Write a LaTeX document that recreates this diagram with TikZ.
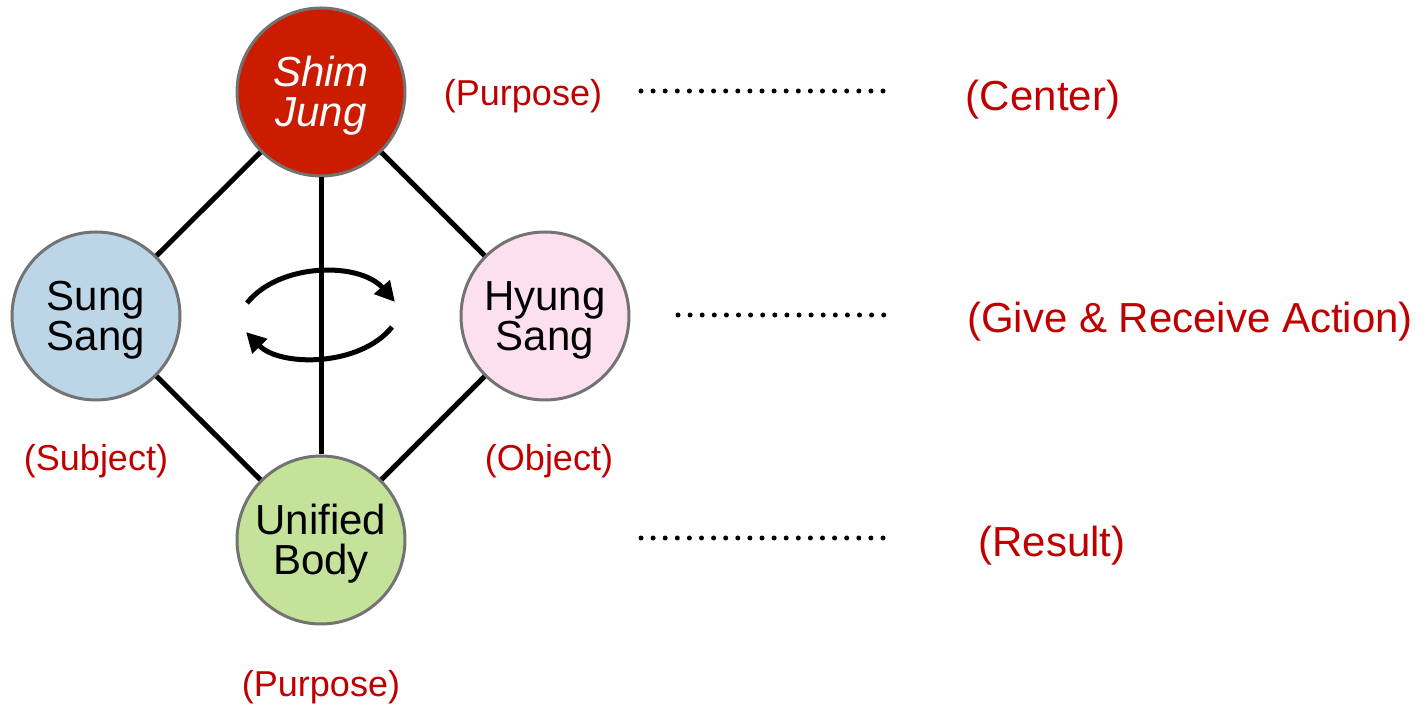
\documentclass[tikz,border=0pt]{standalone}
\usepackage{fontspec}
\setmainfont{Liberation Sans}
\usetikzlibrary{arrows.meta,positioning}
\definecolor{jungred}{HTML}{CC1C00}
\definecolor{sungblue}{HTML}{BCD6E8}
\definecolor{hyungpink}{HTML}{FDE0F0}
\definecolor{bodygreen}{HTML}{C4E29A}
\definecolor{notered}{HTML}{C00000}
\tikzset{
  role/.style={circle, draw=black!55, line width=1.5pt, minimum size=84pt, inner sep=0pt},
  rolename/.style={align=center, yshift=-2pt, font=\fontsize{21}{20}\selectfont},
  link/.style={line width=2.5pt, black},
  cycle/.style={line width=2.5pt, black, -{Triangle[length=10pt,width=10pt]}},
  leader/.style={line width=2.5pt, black, line cap=round, dash pattern=on 0pt off 6.05pt},
  tag/.style={text=notered, font=\fontsize{18}{20}\selectfont},
  level/.style={text=notered, font=\fontsize{21}{24}\selectfont}
}
\begin{document}
\begin{tikzpicture}[x=0.5pt,y=-0.5pt]
  \useasboundingbox (0,0) rectangle (1426,705);
  % four positions
  \node[role, fill=jungred, label={[rolename, text=white, font=\fontsize{21}{20}\selectfont\itshape]center:Shim\\Jung}] (jung) at (321,92) {};
  \node[role, fill=sungblue, label={[rolename]center:Sung\\Sang}] (sung) at (96,316) {};
  \node[role, fill=hyungpink, label={[rolename]center:Hyung\\Sang}] (hyung) at (545,316) {};
  \node[role, fill=bodygreen, label={[rolename]center:Unified\\Body}] (body) at (321,540) {};
  \draw[link] (jung) -- (sung);
  \draw[link] (jung) -- (hyung);
  \draw[link] (jung) -- (body);
  \draw[link] (sung) -- (body);
  \draw[link] (hyung) -- (body);
  % give and receive
  \coordinate (gr1) at (247,303);
  \coordinate (gr2) at (395,302);
  \coordinate (gr3) at (392,327);
  \coordinate (gr4) at (246,332);
  \draw[cycle] (gr1) .. controls (280,262) and (360,262) .. (gr2);
  \draw[cycle] (gr3) .. controls (360,367) and (280,367) .. (gr4);
  % labels
  \node[tag] (tjung) at (523,96) {(Purpose)};
  \node[tag] (tsung) at (96,461) {(Subject)};
  \node[tag] (thyung) at (549,461) {(Object)};
  \node[tag] (tbody) at (321,687) {(Purpose)};
  \node[level] (center) at (1043,100) {(Center)};
  \node[level] (action) at (1190,322) {(Give \& Receive Action)};
  \node[level] (result) at (1052,546) {(Result)};
  \coordinate (d1a) at (641,91);  \coordinate (d1b) at (884,91);
  \coordinate (d2a) at (678,315); \coordinate (d2b) at (884.5,315);
  \coordinate (d3a) at (641,538); \coordinate (d3b) at (884,538);
  \draw[leader] (d1a) -- (d1b);
  \draw[leader] (d2a) -- (d2b);
  \draw[leader] (d3a) -- (d3b);
\end{tikzpicture}
\end{document}
